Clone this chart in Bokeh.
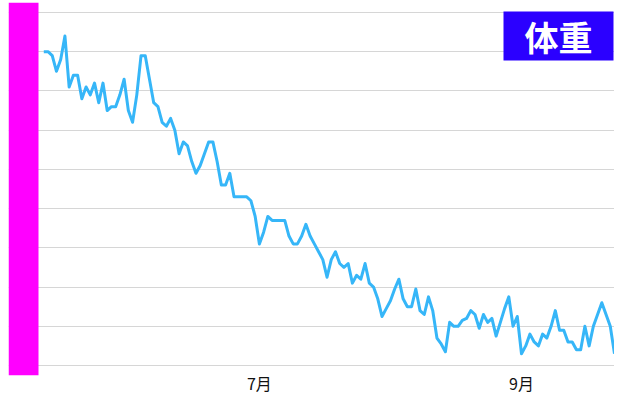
import pandas as pd
from bokeh.plotting import figure
from bokeh.models import FixedTicker, Label, Range1d, ColumnDataSource, BoxAnnotation
from bokeh.embed import file_html
from bokeh.resources import INLINE

# ---- data ----
start_date = "2017-05-11"
weights = [
    68.0, 68.0, 67.9, 67.5, 67.8, 68.4, 67.1, 67.4, 67.4, 66.8,
    67.1, 66.9, 67.2, 66.7, 67.2, 66.5, 66.6, 66.6, 66.9, 67.3,
    66.5, 66.2, 66.9, 67.9, 67.9, 67.3, 66.7, 66.6, 66.2, 66.1,
    66.3, 66.0, 65.4, 65.7, 65.6, 65.2, 64.9, 65.1, 65.4, 65.7,
    65.7, 65.2, 64.6, 64.6, 64.9, 64.3, 64.3, 64.3, 64.3, 64.2,
    63.8, 63.1, 63.4, 63.8, 63.7, 63.7, 63.7, 63.7, 63.3, 63.1,
    63.1, 63.3, 63.6, 63.3, 63.1, 62.9, 62.7, 62.25, 62.7, 62.9,
    62.6, 62.5, 62.6, 62.1, 62.3, 62.2, 62.6, 62.1, 62.0, 61.7,
    61.25, 61.45, 61.65, 61.95, 62.2, 61.7, 61.5, 61.5, 61.95, 61.4,
    61.3, 61.75, 61.4, 60.7, 60.55, 60.35, 61.1, 61.0, 61.0, 61.15,
    61.2, 61.4, 61.3, 60.95, 61.3, 61.1, 61.2, 60.75, 61.1, 61.45,
    61.75, 61.0, 61.25, 60.3, 60.5, 60.8, 60.6, 60.5, 60.8, 60.7,
    61.0, 61.4, 60.9, 60.9, 60.6, 60.6, 60.4, 60.4, 61.0, 60.5,
    61.0, 61.3, 61.6, 61.3, 61.0, 60.3,
]
series_name = "体重"
tick_dates = ["2017-07-01", "2017-09-01"]
tick_labels = ["7月", "9月"]
grid_values = [60, 61, 62, 63, 64, 65, 66, 67, 68, 69]

dates = pd.date_range(start_date, periods=len(weights), freq="D")
source = ColumnDataSource(data=dict(date=dates, weight=weights))

def ms(d):
    return int(pd.Timestamp(d).timestamp() * 1000)

tick_ms = [ms(d) for d in tick_dates]
DAY = 24 * 3600 * 1000

TOP = 2
BOTTOM = 26
FRAME_H = 373
x_range = Range1d(start=ms(dates[0]) - 8.35 * DAY, end=ms(dates[-1]))
y_range = Range1d(start=59.745, end=69.255)

p = figure(width=614, height=TOP + FRAME_H + BOTTOM, x_axis_type="datetime",
           x_range=x_range, y_range=y_range,
           toolbar_location=None, output_backend="svg",
           min_border_left=8, min_border_right=0, min_border_top=TOP,
           min_border_bottom=BOTTOM)
p.outline_line_color = None
p.background_fill_color = "white"
p.border_fill_color = "white"

p.yaxis.visible = False
p.ygrid.ticker = FixedTicker(ticks=grid_values)
p.ygrid.grid_line_color = "#d6d6d6"
p.ygrid.grid_line_width = 1
p.xgrid.visible = False

p.xaxis.ticker = FixedTicker(ticks=tick_ms)
p.xaxis.major_label_overrides = {t: l for t, l in zip(tick_ms, tick_labels)}
p.xaxis.axis_line_color = None
p.xaxis.major_tick_line_color = None
p.xaxis.minor_tick_line_color = None
p.xaxis.major_tick_out = 0
p.xaxis.major_tick_in = 0
p.xaxis.major_label_standoff = -5
p.xaxis.major_label_text_font = "Noto Sans CJK JP"
p.xaxis.major_label_text_font_size = "16px"
p.xaxis.major_label_text_color = "#111111"

# magenta band on the left edge of the plot area
band = BoxAnnotation(right=30, right_units="screen", fill_color="#ff00ff",
                     fill_alpha=1.0, line_color=None)
p.add_layout(band)

p.line(x="date", y="weight", source=source, line_color="#36b6f8",
       line_width=3, line_join="round")

legend_label = Label(x=495, y=FRAME_H - 9, x_units="screen", y_units="screen",
                     text=series_name, text_align="left", text_baseline="top",
                     text_font="Noto Sans CJK JP", text_font_size="34px",
                     text_font_style="bold", text_color="white",
                     background_fill_color="#2b00ff",
                     padding=dict(left=21, right=21, top=0, bottom=0))
p.add_layout(legend_label)

open("out.html", "w").write(file_html(p, INLINE))
